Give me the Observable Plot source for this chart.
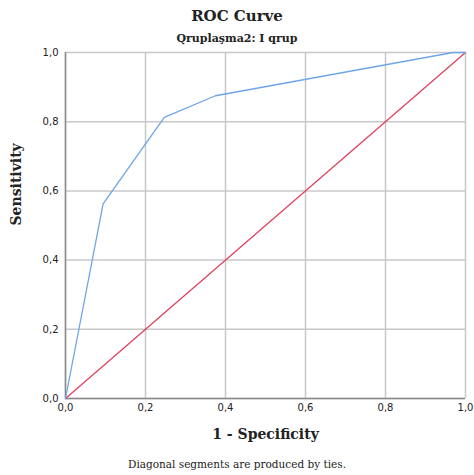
<!DOCTYPE html>
<html><head><meta charset="utf-8">
<script src="https://cdn.jsdelivr.net/npm/d3@7"></script>
<script src="https://cdn.jsdelivr.net/npm/@observablehq/plot@0.6"></script>
<style>
body{margin:0;background:#fff;width:474px;}
.t{font-family:"DejaVu Serif","Liberation Serif",serif;font-weight:bold;text-align:center;color:#222;}
#title{font-size:15px;height:32px;line-height:32px;}
#sub{font-size:11px;height:14px;line-height:14px;}
#cap{font-family:"DejaVu Serif","Liberation Serif",serif;font-size:10.5px;text-align:center;color:#222;margin-top:8px;}
</style></head><body>
<div id="title" class="t">ROC Curve</div>
<div id="sub" class="t">Qruplaşma2: I qrup</div>
<div id="chart"></div>
<div id="cap">Diagonal segments are produced by ties.</div>
<script>
const rocX = [0, 0.094, 0.247, 0.375, 0.969, 1];
const rocY = [0, 0.5625, 0.8125, 0.875, 1, 1];
const refX = [0, 1];
const refY = [0, 1];
const ticks = [0, 0.2, 0.4, 0.6, 0.8, 1];
const xLabel = "1 - Specificity";
const yLabel = "Sensitivity";

const roc = rocX.map((x, i) => ({x, y: rocY[i]}));
const ref = refX.map((x, i) => ({x, y: refY[i]}));
const fmt = d => d3.format(".1f")(d).replace(".", ",");

const plot = Plot.plot({
  width: 474, height: 404,
  marginLeft: 65, marginRight: 9, marginTop: 6, marginBottom: 52,
  style: {fontFamily: "DejaVu Sans, sans-serif", fontSize: "10px", color: "#222", background: "#fff"},
  x: {domain: [0, 1], ticks, tickFormat: fmt, label: null},
  y: {domain: [0, 1], ticks, tickFormat: fmt, label: null},
  marks: [
    Plot.gridX(ticks, {stroke: "#c8c8c8", strokeOpacity: 1, strokeWidth: 1.5}),
    Plot.gridY(ticks, {stroke: "#c8c8c8", strokeOpacity: 1, strokeWidth: 1.5}),
    Plot.ruleX([0], {stroke: "#8a8a8a", strokeWidth: 1.5}),
    Plot.ruleY([0], {stroke: "#8a8a8a", strokeWidth: 1.5}),
    Plot.axisX({ticks, tickFormat: fmt, tickSize: 0, tickPadding: 5, label: null}),
    Plot.axisY({ticks, tickFormat: fmt, tickSize: 0, tickPadding: 7, label: null}),
    Plot.line(ref, {x: "x", y: "y", stroke: "#e2415f", strokeWidth: 1.3}),
    Plot.line(roc, {x: "x", y: "y", stroke: "#6fa5e8", strokeWidth: 1.3}),
    Plot.text([xLabel], {frameAnchor: "bottom", dy: 40, text: d => d, fontFamily: "DejaVu Serif, serif", fontWeight: "bold", fontSize: 14, fill: "#222"}),
    Plot.text([yLabel], {frameAnchor: "left", dx: -49, rotate: -90, text: d => d, fontFamily: "DejaVu Serif, serif", fontWeight: "bold", fontSize: 14, fill: "#222"})
  ]
});
document.getElementById("chart").appendChild(plot);
</script>
</body></html>
